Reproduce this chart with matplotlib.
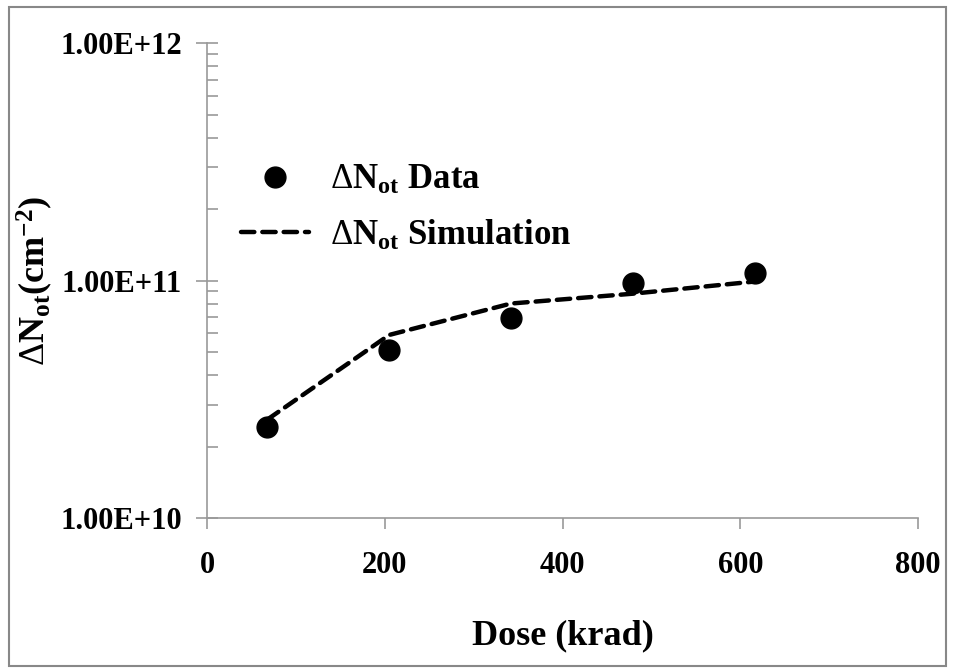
import matplotlib
matplotlib.use('Agg')
import matplotlib.pyplot as plt
from matplotlib.patches import Rectangle
from matplotlib.ticker import LogLocator, NullFormatter, FixedLocator

# values
dose = [68, 205, 342, 479, 616]
data_not = [2.42e10, 5.1e10, 6.97e10, 9.73e10, 1.08e11]
sim_not = [2.6e10, 5.9e10, 8.0e10, 8.8e10, 9.9e10]

x_ticks = [0, 200, 400, 600, 800]
y_ticks = [1e10, 1e11, 1e12]
y_tick_labels = ['1.00E+10', '1.00E+11', '1.00E+12']

plt.rcParams['font.family'] = ['Liberation Serif', 'DejaVu Serif']
plt.rcParams['font.weight'] = 'bold'
plt.rcParams['mathtext.fontset'] = 'custom'
plt.rcParams['mathtext.default'] = 'rm'
plt.rcParams['mathtext.rm'] = 'Liberation Serif:weight=normal'
plt.rcParams['mathtext.it'] = 'Liberation Serif:weight=normal'
plt.rcParams['mathtext.bf'] = 'Liberation Serif:weight=bold'

fig = plt.figure(figsize=(9.55, 6.71), dpi=100)
ax = fig.add_axes([0.2168, 0.228, 0.7445, 0.7079])

# outer chart border
fig.patches.append(Rectangle((0.009, 0.008), 0.982, 0.982, transform=fig.transFigure,
                             fill=False, edgecolor='#888888', lw=1.5))

nlab = r'$\Delta\mathbf{N}_{\mathbf{ot}}$'
ax.plot(dose, sim_not, color='black', lw=3.2, dashes=(3, 1.8),
        dash_capstyle='round', label=nlab + ' Simulation', zorder=2)
ax.plot(dose, data_not, ls='none', marker='o', ms=15, color='black',
        label=nlab + ' Data', zorder=3)

ax.set_yscale('log')
ax.set_xlim(0, 800)
ax.set_ylim(1e10, 1e12)
ax.xaxis.set_major_locator(FixedLocator(x_ticks))
ax.set_xticklabels([str(t) for t in x_ticks])
ax.yaxis.set_major_locator(FixedLocator(y_ticks))
ax.set_yticklabels(y_tick_labels)
ax.yaxis.set_minor_locator(LogLocator(base=10, subs=range(2, 10)))
ax.yaxis.set_minor_formatter(NullFormatter())

for s in ['top', 'right']:
    ax.spines[s].set_visible(False)
for s in ['left', 'bottom']:
    ax.spines[s].set_color('#999999')
    ax.spines[s].set_linewidth(1.2)

ax.tick_params(axis='y', which='major', direction='inout', length=16, width=1.2,
               color='#999999', labelsize=22, pad=10)
ax.tick_params(axis='y', which='minor', direction='in', length=8, width=1.2,
               color='#999999')
ax.tick_params(axis='x', which='major', direction='out', length=8, width=1.2,
               color='#999999', labelsize=22, pad=16)

ax.set_xlabel('Dose (krad)', fontsize=26, fontweight='bold', labelpad=28)
ax.set_ylabel(r'$\Delta\mathbf{N}_{\mathbf{ot}}\mathbf{(cm}^{\mathbf{-2}}\mathbf{)}$',
              fontsize=26)
ax.yaxis.set_label_coords(-0.214, 0.5)

handles, labels = ax.get_legend_handles_labels()
ax.legend(handles[::-1], labels[::-1], loc='upper left',
          bbox_to_anchor=(0.028, 0.775), borderaxespad=0, frameon=False,
          fontsize=25, handlelength=1.96, handletextpad=0.62, labelspacing=0.62)

fig.savefig('out.png', dpi=100)
